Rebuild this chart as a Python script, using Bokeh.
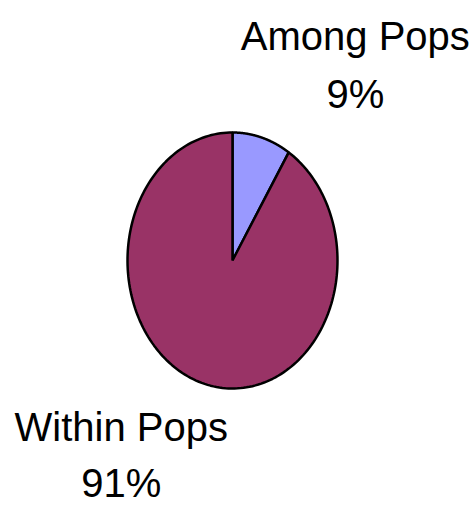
import numpy as np
from bokeh.plotting import figure
from bokeh.models import ColumnDataSource, Range1d
from bokeh.core.properties import value
from bokeh.embed import file_html
from bokeh.resources import INLINE

# ---- data ----
categories = ["Among Pops", "Within Pops"]
percents = [9, 91]
colors = ["#9999FF", "#993366"]

# label anchor positions (data units, pie radius = 1)
label_x = [1.17, -1.06]
label_name_y = [1.757, -1.303]
label_pct_y = [1.304, -1.742]

# ---- build wedges (clockwise from 12 o'clock) ----
total = float(sum(percents))
fracs = np.array(percents) / total
starts = np.concatenate([[0.0], np.cumsum(fracs)[:-1]]) * 2 * np.pi
ends = np.cumsum(fracs) * 2 * np.pi

xs, ys = [], []
for a0, a1 in zip(starts, ends):
    t = np.linspace(a0, a1, 200)
    xs.append([0.0] + list(np.sin(t)) + [0.0])
    ys.append([0.0] + list(np.cos(t)) + [0.0])

src = ColumnDataSource(dict(xs=xs, ys=ys, color=colors))

W, H = 470, 508
p = figure(width=W, height=H, output_backend="svg", toolbar_location=None,
           x_range=Range1d(-232 / 105, (W - 232) / 105),
           y_range=Range1d((260 - H) / 128, 260 / 128),
           min_border=0, outline_line_color=None)
p.axis.visible = False
p.grid.visible = False
p.background_fill_color = "white"
p.border_fill_color = "white"

p.patches("xs", "ys", source=src, fill_color="color", line_color="black",
          line_width=2.5)

font = value("Liberation Sans")
p.text(x=label_x, y=label_name_y, text=categories, text_font=font,
       text_font_size="40px", text_align="center", text_baseline="alphabetic",
       text_color="black")
p.text(x=label_x, y=label_pct_y, text=[f"{v}%" for v in percents], text_font=font,
       text_font_size="40px", text_align="center", text_baseline="alphabetic",
       text_color="black")

open("out.html", "w").write(file_html(p, INLINE))
